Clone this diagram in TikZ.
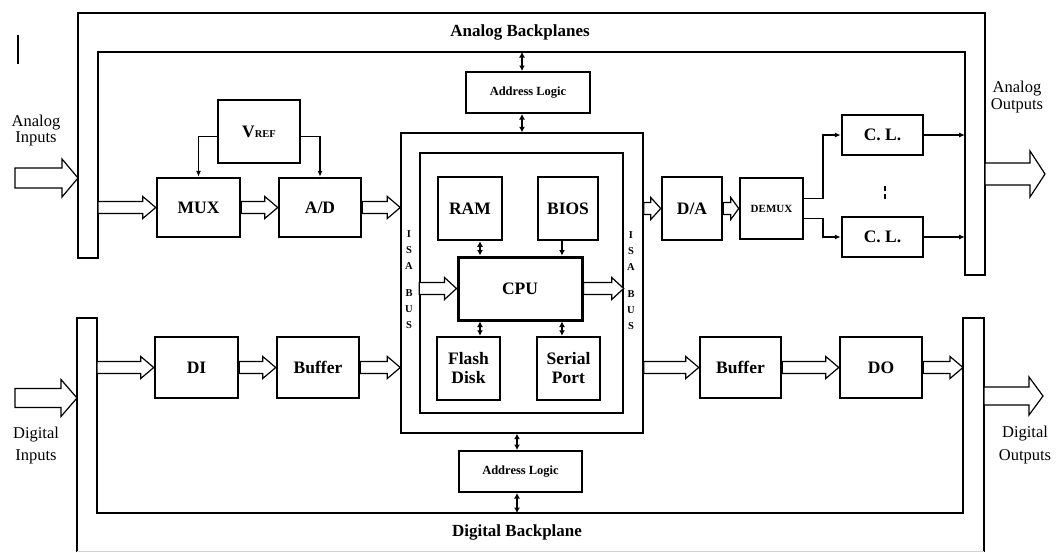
\documentclass[tikz,border=0pt]{standalone}
\usepackage{fontspec}
\setmainfont{Liberation Serif}
\usetikzlibrary{arrows.meta,calc}
\tikzset{
  blk/.style={draw, line width=2.5pt, inner sep=0pt, align=center,
    font=\bfseries\fontsize{17.5}{17.5}\selectfont},
  sz/.style 2 args={minimum width=#1pt, minimum height=#2pt},
  frame/.style={draw, line width=1.4pt, inner sep=0pt},
  addr/.style={draw, line width=2pt, inner sep=0pt, font=\bfseries\fontsize{12.5}{13}\selectfont},
  plane/.style={line width=1.4pt, line join=miter},
  hol/.style={draw, fill=white, line width=1.2pt, line join=miter},
  arr/.style={line width=1.1pt, -{Latex[length=6pt,width=5pt]}},
  dbl/.style={line width=1.8pt, {Latex[length=5.5pt,width=6pt]}-{Latex[length=5.5pt,width=6pt]}},
  iolabel/.style={align=center, font=\fontsize{16.5}{19}\selectfont},
  planelabel/.style={font=\bfseries\fontsize{17}{17}\selectfont},
  isalabel/.style={align=center, font=\bfseries\fontsize{10.5}{16}\selectfont, inner sep=0pt},
}
\newcommand\hollowarr[5]{%
  \draw[hol] let \p1=#1, \p2=#2 in
    (\x1,\y1+#3) -- (\x2-#5,\y1+#3) -- (\x2-#5,\y1+#4) -- (\x2,\y1)
    -- (\x2-#5,\y1-#4) -- (\x2-#5,\y1-#3) -- (\x1,\y1-#3) -- cycle;}
\begin{document}
\begin{tikzpicture}[x=1pt,y=-1pt]
\path[use as bounding box, fill=white] (0,0) rectangle (1056,552);

% backplanes
\draw[plane] (78,258) -- (78,13) -- (985,13) -- (985,275) -- (965,275) -- (965,52) -- (98,52) -- (98,258) -- cycle;
\draw[plane] (77,552) -- (77,318) -- (97,318) -- (97,513) -- (963,513) -- (963,318) -- (984,318) -- (984,552);
\draw[gray!35, line width=1pt] (77,551) -- (984,551);
\coordinate (aLi) at (98,0);
\coordinate (aLo) at (78,0);
\coordinate (aRi) at (965,0);
\coordinate (aRo) at (985,0);
\coordinate (aTi) at (0,52);
\coordinate (dLi) at (97,0);
\coordinate (dLo) at (77,0);
\coordinate (dRi) at (963,0);
\coordinate (dRo) at (984,0);
\coordinate (dBi) at (0,513);

\node[planelabel] (alab) at (520,32) {Analog Backplanes};
\node[planelabel] (dlab) at (517,532) {Digital Backplane};

% stray mark
\draw[line width=1.5pt] (18,35) -- (18,64);

% IO labels
\node[iolabel] (ain) at (36,131) {Analog\\[-3pt]Inputs};
\node[iolabel] (aout) at (1017,97) {Analog\\[-2pt]Outputs};
\node[iolabel] (din) at (36,446) {Digital\\[3pt]Inputs};
\node[iolabel] (dout) at (1025,445) {Digital\\[4pt]Outputs};

\coordinate (ainS) at (15,178);
\coordinate (aoutE) at (1045,174);
\coordinate (dinS) at (15,398);
\coordinate (doutE) at (1043,396);

% analog blocks
\node[blk, sz={82}{63}] (vref) at (259,131.5) {V{\fontsize{10.5}{10}\selectfont REF}};
\node[blk, sz={83}{59}] (mux) at (198.5,207.5) {MUX};
\node[blk, sz={82}{59}] (ad) at (320,207.5) {A/D};

% ISA boxes
\node[frame, sz={242}{300}] (isaO) at (522,283) {};
\node[frame, sz={203}{260}] (isaI) at (521.5,283) {};
\node[blk, sz={64}{63}] (ram) at (470,208.5) {RAM};
\node[blk, sz={60}{63}] (bios) at (568,208.5) {BIOS};
\node[blk, line width=3pt, sz={124}{63}] (cpu) at (520,288.5) {CPU};
\node[blk, sz={63}{63}, font=\bfseries\fontsize{17.5}{19}\selectfont] (flash) at (468.5,368.5) {Flash\\Disk};
\node[blk, sz={63}{63}, font=\bfseries\fontsize{17.5}{19}\selectfont] (serial) at (568.5,368.5) {Serial\\Port};
\node[addr, sz={124}{41}] (addrT) at (528,92.5) {Address Logic};
\node[addr, sz={123}{41}] (addrB) at (520.5,471.5) {Address Logic};

\node[isalabel] (isaL) at (409,280) {I\\S\\A\\[11pt]B\\U\\S};
\node[isalabel] (isaR) at (631,281) {I\\S\\A\\[11pt]B\\U\\S};

% right analog
\node[blk, sz={60}{63}] (da) at (692,208.5) {D/A};
\node[blk, sz={63}{61}, font=\bfseries\fontsize{11}{11}\selectfont] (demux) at (771.5,208.5) {DEMUX};
\node[blk, sz={81}{40}] (cl1) at (882.5,135) {C. L.};
\node[blk, sz={81}{40}] (cl2) at (882.5,237) {C. L.};
\draw[line width=1.6pt, dash pattern=on 5pt off 3pt] (885,186) -- (885,201);

% digital blocks
\node[blk, sz={83}{61}] (di) at (196.5,367.5) {DI};
\node[blk, sz={82}{61}] (buf1) at (318,367.5) {Buffer};
\node[blk, sz={81}{61}] (buf2) at (740.5,367.5) {Buffer};
\node[blk, sz={82}{61}] (do) at (881,367.5) {DO};

% big hollow arrows
\hollowarr{(ainS)}{(aLo |- ainS)}{10}{19}{16}
\hollowarr{(aRo |- aoutE)}{(aoutE)}{11}{23}{15}
\hollowarr{(dinS)}{(dLo |- dinS)}{9.5}{18.5}{16}
\hollowarr{(dRo |- doutE)}{(doutE)}{9}{19}{14}

% small hollow arrows
\hollowarr{(aLi |- mux.west)}{(mux.west)}{6}{11}{13}
\hollowarr{(mux.east)}{(ad.west)}{6}{11}{13}
\hollowarr{(ad.east)}{(isaO.west)}{6}{11}{13}
\hollowarr{(isaI.west |- cpu.west)}{(cpu.west)}{6}{11}{12}
\hollowarr{(cpu.east)}{(isaI.east)}{6}{11}{12}
\hollowarr{(isaO.east |- da.west)}{(da.west)}{6}{11}{10}
\hollowarr{(da.east)}{(demux.west)}{6}{11}{8}
\hollowarr{(dLi |- di.west)}{(di.west)}{6}{11}{13}
\hollowarr{(di.east)}{(buf1.west)}{6}{11}{13}
\hollowarr{(buf1.east)}{(isaO.west)}{6}{11}{13}
\hollowarr{(isaO.east |- buf2.west)}{(buf2.west)}{6}{11}{13}
\hollowarr{(buf2.east)}{(do.west)}{6}{11}{13}
\hollowarr{(do.east)}{(dRi)}{6}{11}{13}

% thin connectors
\draw[arr] ([yshift=-5pt]vref.west) -| (mux.north);
\draw[arr] ([yshift=-5pt]vref.east) -| (ad.north);
\coordinate (m1) at (480,0);
\coordinate (m2) at (562,0);
\coordinate (ax) at (522,0);
\coordinate (bx) at (517,0);
\coordinate (dx) at (823,0);
\draw[dbl] (ram.south -| m1) -- (cpu.north -| m1);
\draw[line width=1.8pt, -{Latex[length=5.5pt,width=6pt]}] (bios.south -| m2) -- (cpu.north -| m2);
\draw[dbl] (cpu.south -| m1) -- (flash.north -| m1);
\draw[dbl] (cpu.south -| m2) -- (serial.north -| m2);
\draw[dbl] (addrT.north -| ax) -- (aTi -| ax);
\draw[dbl] (isaO.north -| ax) -- (addrT.south -| ax);
\draw[dbl] (isaO.south -| bx) -- (addrB.north -| bx);
\draw[dbl] (addrB.south -| bx) -- (dBi -| bx);
\draw[arr] ([yshift=10pt]demux.east) -| (dx |- cl1.west) -- (cl1.west);
\draw[arr] ([yshift=-10pt]demux.east) -| (dx |- cl2.west) -- (cl2.west);
\draw[arr] (cl1.east) -- (aRi |- cl1.east);
\draw[arr] (cl2.east) -- (aRi |- cl2.east);
\end{tikzpicture}
\end{document}
